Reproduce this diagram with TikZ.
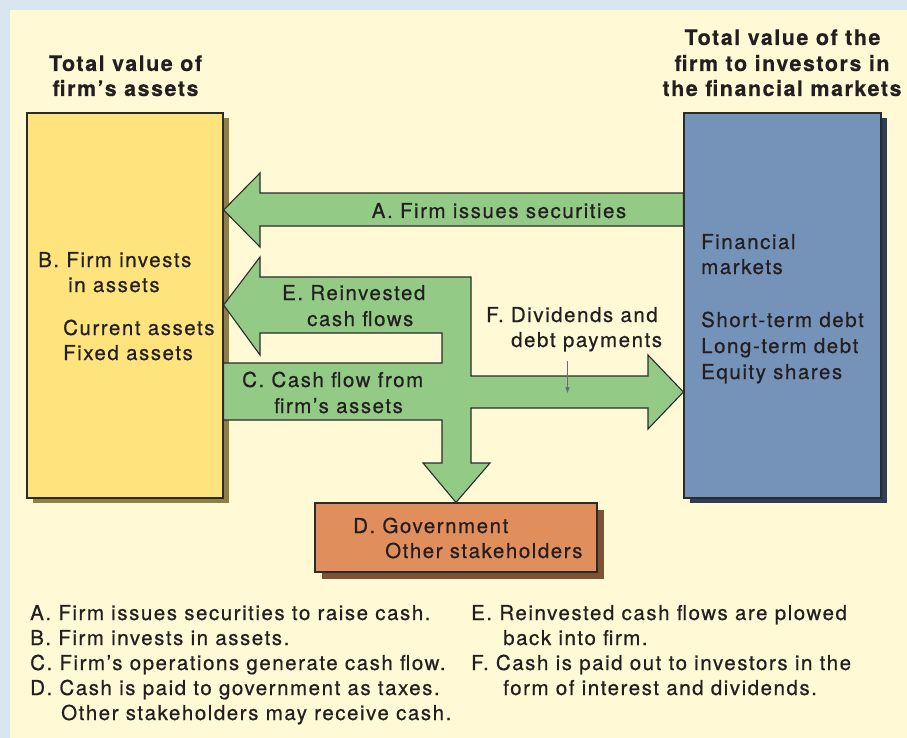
\documentclass[tikz,border=0pt]{standalone}
\usepackage{fontspec}
\setmainfont{TeX Gyre Heros}[LetterSpace=7.5,FakeBold=0.6]
\newfontfamily\dgbold{TeX Gyre Heros Bold}[LetterSpace=7,FakeBold=0.3]
\usetikzlibrary{shadows,arrows.meta}
\definecolor{framebg}{HTML}{D9E5EF}
\definecolor{cream}{HTML}{FFFAD5}
\definecolor{ybox}{HTML}{FFE47D}
\definecolor{yshadow}{HTML}{8F7F45}
\definecolor{bbox}{HTML}{7593B8}
\definecolor{bshadow}{HTML}{2F3E52}
\definecolor{obox}{HTML}{E08E5C}
\definecolor{oshadow}{HTML}{7B5232}
\definecolor{agreen}{HTML}{93CB86}
\definecolor{ink}{HTML}{231F20}
\definecolor{edge}{HTML}{2B2B2B}
\definecolor{pointer}{HTML}{6B6B78}
\newcommand\dgbody{\fontsize{20.5}{25}\selectfont}
\newcommand\dgtitle{\fontsize{21.5}{25}\selectfont\dgbold}
\begin{document}
\begin{tikzpicture}[x=1pt,y=-1pt,
  panel/.style={draw=edge, line width=1.2pt, inner sep=0pt},
  txt/.style={anchor=base west, inner sep=0pt, text=ink, font=\dgbody},
  ctxt/.style={anchor=base, inner sep=0pt, text=ink, font=\dgbody},
  ttl/.style={anchor=base, inner sep=0pt, text=ink, font=\dgtitle},
  flow/.style={fill=agreen, draw=edge, line width=1.1pt, line join=miter}]
\useasboundingbox (0,0) rectangle (907,738);
\fill[framebg] (0,0) rectangle (907,738);
\fill[cream] (10,10) rectangle (907,738);

% boxes
\node[panel, fill=ybox, minimum width=196pt, minimum height=385pt,
  general shadow={shadow xshift=6pt, shadow yshift=-5pt, fill=yshadow}] (yb) at (125,305.5) {};
\node[panel, fill=bbox, minimum width=197pt, minimum height=385pt,
  general shadow={shadow xshift=6pt, shadow yshift=-5pt, fill=bshadow}] (bb) at (782.5,305.5) {};
\node[panel, fill=obox, minimum width=282pt, minimum height=69pt,
  general shadow={shadow xshift=7pt, shadow yshift=-7pt, fill=oshadow}] (ob) at (456,537.5) {};

% arrow A
\draw[flow] (bb.west |- 0,193) -- (260,193) -- (260,173) -- (yb.east |- 0,210)
  -- (260,247) -- (260,226) -- (bb.west |- 0,226) -- cycle;

% arrows C, D, E, F (one shape)
\draw[flow] (yb.east |- 0,305) -- (260,257) -- (260,277) -- (471,277) -- (471,376)
  -- (648,376) -- (648,355) -- (bb.west |- 0,392) -- (648,429) -- (648,408)
  -- (471,408) -- (471,463) -- (490,463) -- (ob.north) -- (423,463) -- (442,463)
  -- (442,420) -- (yb.east |- 0,420) -- (yb.east |- 0,363) -- (442,363)
  -- (442,333) -- (260,333) -- (260,355) -- cycle;

% small pointer
\coordinate (fp1) at (567.5,361);
\coordinate (fp2) at (567.5,393);
\draw[pointer, line width=1pt, -{Triangle[length=6pt,width=4pt]}] (fp1) -- (fp2);

% titles
\node[ttl] (tl1) at (125.5,71) {Total value of};
\node[ttl] (tl2) at (125.5,96) {firm’s assets};
\node[ttl] (tr1) at (782.5,45) {Total value of the};
\node[ttl] (tr2) at (782,71) {firm to investors in};
\node[ttl] (tr3) at (782,96) {the financial markets};

% arrow labels
\node[ctxt] (la) at (499,218) {A. Firm issues securities};
\node[txt] (lb1) at (38,267) {B. Firm invests};
\node[txt] (lb2) at (68,292) {in assets};
\node[txt] (lb3) at (63,335) {Current assets};
\node[txt] (lb4) at (63,360) {Fixed assets};
\node[txt] (le1) at (282,300) {E. Reinvested};
\node[txt] (le2) at (307,326) {cash flows};
\node[txt] (lf1) at (486,322) {F. Dividends and};
\node[txt] (lf2) at (511,347) {debt payments};
\node[txt] (lc1) at (242,387) {C. Cash flow from};
\node[txt] (lc2) at (274,413) {firm’s assets};
\node[txt] (m1) at (701,249) {Financial};
\node[txt] (m2) at (701,274) {markets};
\node[txt] (m3) at (701,327) {Short-term debt};
\node[txt] (m4) at (701,353) {Long-term debt};
\node[txt] (m5) at (701,379) {Equity shares};
\node[txt] (ld1) at (353,533) {D. Government};
\node[txt] (ld2) at (385,558) {Other stakeholders};

% legend
\node[txt] (g1) at (30,620) {A. Firm issues securities to raise cash.};
\node[txt] (g2) at (30,645) {B. Firm invests in assets.};
\node[txt] (g3) at (30,670) {C. Firm’s operations generate cash flow.};
\node[txt] (g4) at (30,695) {D. Cash is paid to government as taxes.};
\node[txt] (g5) at (61,720) {Other stakeholders may receive cash.};
\node[txt] (g6) at (471,620) {E. Reinvested cash flows are plowed};
\node[txt] (g7) at (503,645) {back into firm.};
\node[txt] (g8) at (471,670) {F. Cash is paid out to investors in the};
\node[txt] (g9) at (503,695) {form of interest and dividends.};
\end{tikzpicture}
\end{document}
